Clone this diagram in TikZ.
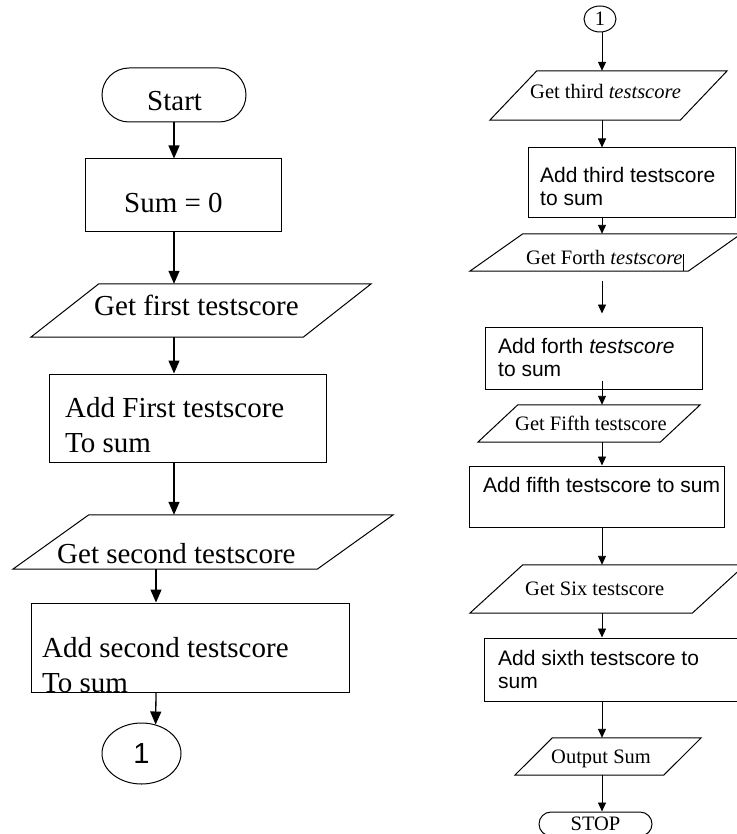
\documentclass[tikz,border=0pt]{standalone}
\usepackage{fontspec}
\setmainfont{Liberation Serif}
\setsansfont{Liberation Sans}
\usetikzlibrary{arrows.meta,calc,shapes.geometric}
\tikzset{
  term/.style={draw,line width=1pt,rounded corners=#1,inner sep=0pt},
  proc/.style={draw,line width=1pt,inner sep=0pt},
  inout/.style={inner sep=0pt},
  conn/.style={ellipse,draw,line width=1pt,inner sep=0pt},
  txtL/.style={font=\fontsize{29}{35}\selectfont,inner sep=0pt,anchor=base west,align=left},
  txtR/.style={font=\fontsize{20.5}{23}\selectfont,inner sep=0pt,anchor=base west},
  txtS/.style={font=\sffamily\fontsize{21}{23}\selectfont,inner sep=0pt,anchor=base west,align=left},
  arrL/.style={-{Triangle[width=11pt,length=13pt]},line width=1.3pt},
  arrR/.style={-{Triangle[width=8pt,length=9pt]},line width=0.9pt}
}
% slanted outline round an input/output node: #1 node, #2 half slant
\newcommand{\ioshape}[2]{%
  \draw[line width=1pt] ($(#1.south west)+(-#2,0)$) -- ($(#1.south east)+(-#2,0)$)
    -- ($(#1.north east)+(#2,0)$) -- ($(#1.north west)+(#2,0)$) -- cycle;}

\begin{document}
\begin{tikzpicture}[x=1pt,y=-1pt]
\useasboundingbox (0,0) rectangle (736,834);
% left column
\node[term=27pt,minimum width=144pt,minimum height=54pt] (start) at (174,95) {};
\node[txtL] (startT) at (147,111) {Start};
\node[proc,minimum width=196pt,minimum height=72pt] (sum) at (183,195) {};
\node[txtL] (sumT) at (124,213) {Sum = 0};
\node[inout,minimum width=272pt,minimum height=53pt] (get1) at (201,310.5) {};
\ioshape{get1}{34}
\node[txtL] (get1T) at (94,315) {Get first testscore};
\node[proc,minimum width=277pt,minimum height=88pt] (add1) at (187.5,418) {};
\node[txtL] (add1T) at (65,452) {Add First testscore\\To sum};
\node[inout,minimum width=304pt,minimum height=54pt] (get2) at (203,542) {};
\ioshape{get2}{38}
\node[txtL] (get2T) at (57,563) {Get second testscore};
\node[txtL] (add2T) at (42,692) {Add second testscore\\To sum};
\node[proc,minimum width=318pt,minimum height=89pt] (add2) at (190,647.5) {};
\node[conn,minimum width=79pt,minimum height=61pt,font=\sffamily\fontsize{29}{35}\selectfont] (out1) at (141.5,753.5) {1};

\coordinate (lineA) at (174,0);
\coordinate (lineB) at (156,0);
\draw[arrL] (start.south) -- (sum.north -| lineA);
\draw[arrL] (sum.south -| lineA) -- (get1.north -| lineA);
\draw[arrL] (get1.south -| lineA) -- (add1.north -| lineA);
\draw[arrL] (add1.south -| lineA) -- (get2.north -| lineA);
\draw[arrL] (get2.south -| lineB) -- (add2.north -| lineB);
\draw[arrL] (add2.south -| lineB) -- (out1.64);

% right column
\node[conn,minimum width=32pt,minimum height=26pt,font=\fontsize{20.5}{23}\selectfont] (in1) at (600,19) {1};
\node[inout,minimum width=190pt,minimum height=49pt] (get3) at (608.5,95.5) {};
\ioshape{get3}{23.5}
\node[txtR] (get3T) at (530,99) {Get third \textit{testscore}};
\node[proc,minimum width=207pt,minimum height=70pt] (add3) at (631.5,183) {};
\node[txtS] (add3T) at (540,206) {Add third testscore\\to sum};
\node[inout,minimum width=218pt,minimum height=37pt] (get4) at (605.5,252.5) {};
\ioshape{get4}{26.5}
\node[txtR] (get4T) at (526,264) {Get Forth \textit{testscore}};
\draw[line width=0.6pt] (683,254) -- (get4.south -| 683,0);
\node[proc,minimum width=217pt,minimum height=62pt] (add4) at (593.5,358) {};
\node[txtS] (add4T) at (498,376) {Add forth \textit{testscore}\\to sum};
\node[inout,minimum width=182pt,minimum height=37pt] (get5) at (589,423.5) {};
\ioshape{get5}{20}
\node[txtR] (get5T) at (515,430) {Get Fifth testscore};
\node[proc,minimum width=255pt,minimum height=61pt] (add5) at (596.5,496.5) {};
\node[txtS] (add5T) at (483,492) {Add fifth testscore to sum};
\node[inout,minimum width=222pt,minimum height=48pt] (get6) at (607.5,589) {};
\ioshape{get6}{26.5}
\node[txtR] (get6T) at (525,595) {Get Six testscore};
\node[proc,minimum width=258pt,minimum height=63pt] (add6) at (613,669.5) {};
\node[txtS] (add6T) at (498,688) {Add sixth testscore to\\sum};
\node[inout,minimum width=148.5pt,minimum height=37pt] (put) at (608,756.5) {};
\ioshape{put}{18.75}
\node[txtR] (putT) at (551,763) {Output Sum};
\node[term=12pt,minimum width=113pt,minimum height=24pt,font=\fontsize{20.5}{23}\selectfont] (stop) at (595.5,824) {STOP};

\coordinate (lineC) at (602,0);
\draw[arrR] (in1.south -| lineC) -- (get3.north -| lineC);
\draw[arrR] (get3.south -| lineC) -- (add3.north -| lineC);
\draw[arrR] (add3.south -| lineC) -- (get4.north -| lineC);
\draw[arrR] ($(get4.south -| lineC)+(0,10)$) -- ($(add4.north -| lineC)+(0,-13)$);
\draw[arrR] ($(add4.south -| lineC)+(0,-9)$) -- (get5.north -| lineC);
\draw[arrR] (get5.south -| lineC) -- (add5.north -| lineC);
\draw[arrR] (add5.south -| lineC) -- (get6.north -| lineC);
\draw[arrR] (get6.south -| lineC) -- (add6.north -| lineC);
\draw[arrR] (add6.south -| lineC) -- (put.north -| lineC);
\draw[arrR] (put.south -| lineC) -- (stop.north -| lineC);
\end{tikzpicture}
\end{document}
